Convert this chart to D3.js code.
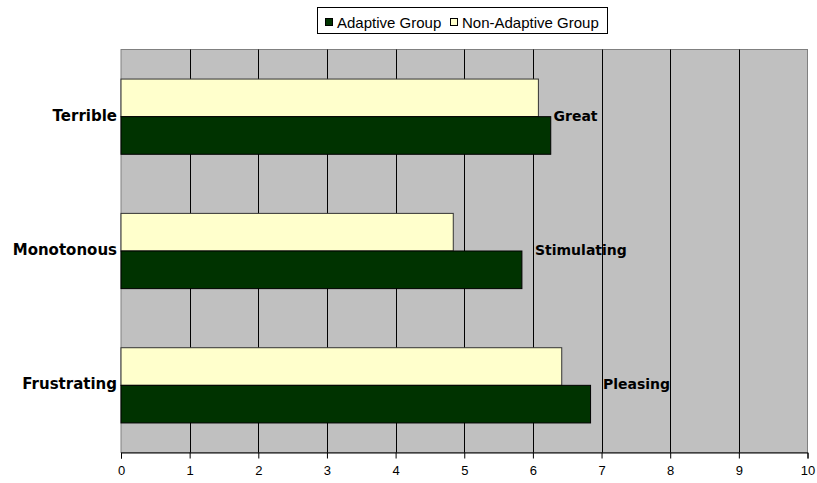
<!DOCTYPE html>
<html>
<head>
<meta charset="utf-8">
<script src="https://cdn.jsdelivr.net/npm/d3@7"></script>
<style>
html,body{margin:0;padding:0;background:#fff;}
svg{display:block;}
</style>
</head>
<body>
<svg id="chart" width="817" height="483"></svg>
<script>
// ---- data ----
const categories = ["Terrible", "Monotonous", "Frustrating"];
const rightLabels = ["Great", "Stimulating", "Pleasing"];
const rightLabelAt = [6.3, 6.03, 7.02];
const seriesNames = ["Adaptive Group", "Non-Adaptive Group"];
const adaptive = [6.26, 5.84, 6.84];
const nonAdaptive = [6.08, 4.84, 6.42];
const xTicks = [0, 1, 2, 3, 4, 5, 6, 7, 8, 9, 10];

const colors = ["#003300", "#FFFFCC"];

const svg = d3.select("#chart");
const m = {left: 121, right: 817 - 807.5, top: 49.5, bottom: 483 - 452.5};
const W = 817, H = 483;
const x = d3.scaleLinear().domain([0, 10]).range([m.left, W - m.right]);
const y = d3.scaleBand().domain(categories).range([m.top, H - m.bottom])
  .paddingInner(0.44).paddingOuter(0.22);
const sub = d3.scaleBand().domain(["Non-Adaptive Group", "Adaptive Group"]).range([0, y.bandwidth()]);

// plot background
svg.append("rect").attr("x", x(0)).attr("y", m.top)
  .attr("width", x(10) - x(0)).attr("height", H - m.bottom - m.top)
  .attr("fill", "#C0C0C0").attr("stroke", "#808080").attr("stroke-width", 1);

// gridlines
svg.append("g").selectAll("line").data(xTicks.slice(1, -1)).join("line")
  .attr("x1", d => Math.round(x(d)) + 0.5).attr("x2", d => Math.round(x(d)) + 0.5)
  .attr("y1", m.top).attr("y2", H - m.bottom)
  .attr("stroke", "#000").attr("stroke-width", 1);

// bars
const rows = categories.map((c, i) => ({c, a: adaptive[i], n: nonAdaptive[i]}));
const g = svg.append("g");
rows.forEach(r => {
  g.append("rect").attr("x", x(0)).attr("y", y(r.c) + sub("Non-Adaptive Group"))
    .attr("width", x(r.n) - x(0)).attr("height", sub.bandwidth())
    .attr("fill", colors[1]).attr("stroke", "#333").attr("stroke-width", 1);
  g.append("rect").attr("x", x(0)).attr("y", y(r.c) + sub("Adaptive Group"))
    .attr("width", x(r.a) - x(0)).attr("height", sub.bandwidth())
    .attr("fill", colors[0]).attr("stroke", "#000").attr("stroke-width", 1);
});

// x axis
const xAxis = d3.axisBottom(x).tickValues(xTicks).tickSize(6).tickPadding(7).tickFormat(d3.format("d"));
const ax = svg.append("g").attr("transform", `translate(0,${H - m.bottom})`).call(xAxis);
ax.select(".domain").attr("stroke", "#000");
ax.selectAll(".tick line").attr("stroke", "#000");
ax.selectAll("text").attr("font-family", "Liberation Sans, Arial, sans-serif")
  .attr("font-size", 13).attr("fill", "#000");

// left category labels
svg.append("g").selectAll("text").data(categories).join("text")
  .attr("x", x(0) - 4).attr("y", d => y(d) + y.bandwidth() / 2 - 1)
  .attr("text-anchor", "end").attr("dominant-baseline", "central")
  .attr("font-family", "DejaVu Sans, Verdana, sans-serif").attr("font-weight", "bold")
  .attr("font-size", 15).attr("fill", "#000").text(d => d);

// right labels
svg.append("g").selectAll("text").data(rightLabels).join("text")
  .attr("x", (d, i) => x(rightLabelAt[i])).attr("y", (d, i) => y(categories[i]) + y.bandwidth() / 2 - 1)
  .attr("text-anchor", "start").attr("dominant-baseline", "central")
  .attr("font-family", "DejaVu Sans, Verdana, sans-serif").attr("font-weight", "bold")
  .attr("font-size", 14).attr("fill", "#000").text(d => d);

// legend
const lg = svg.append("g");
lg.append("rect").attr("x", 317.5).attr("y", 7.5).attr("width", 290).attr("height", 26)
  .attr("fill", "#fff").attr("stroke", "#000").attr("stroke-width", 1);
const legX = [325, 450];
seriesNames.forEach((s, i) => {
  lg.append("rect").attr("x", legX[i] + 0.5).attr("y", 18.5).attr("width", 7).attr("height", 7)
    .attr("fill", colors[i]).attr("stroke", "#000").attr("stroke-width", 1);
  lg.append("text").attr("x", legX[i] + 12).attr("y", 22).attr("dominant-baseline", "central")
    .attr("font-family", "Liberation Sans, Arial, sans-serif").attr("font-size", 15)
    .attr("fill", "#000").text(s);
});
</script>
</body>
</html>
